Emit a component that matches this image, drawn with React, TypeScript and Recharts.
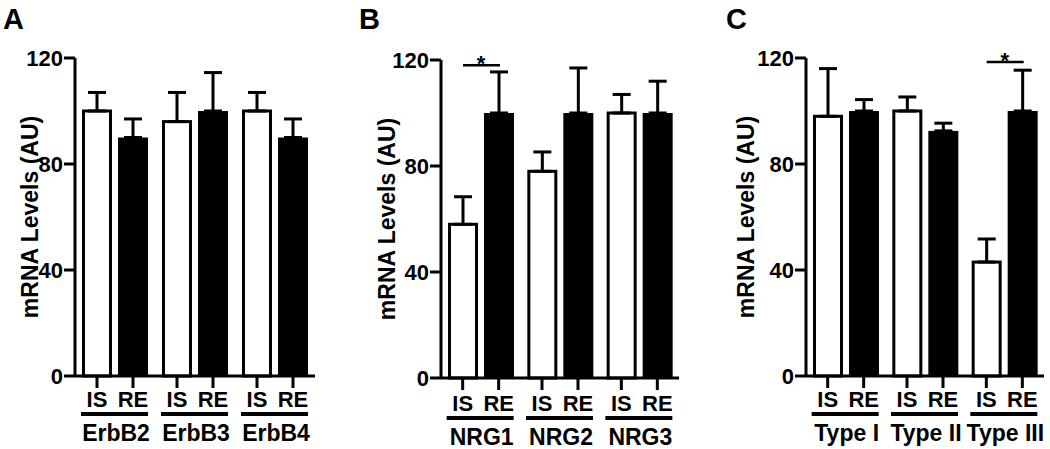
import React from "react";
import { BarChart, Bar, XAxis, YAxis, ErrorBar, Label } from "recharts";

const FONT = "'Liberation Sans', Arial, Helvetica, sans-serif";

// panel A - receptors
const erbGroups = ["ErbB2", "ErbB3", "ErbB4"];
const erbIS = [100, 96, 100];
const erbISErr = [7, 11, 7];
const erbRE = [90, 100, 90];
const erbREErr = [7, 14.5, 7];
const erbSig = [null, null, null];

// panel B - ligands
const nrgGroups = ["NRG1", "NRG2", "NRG3"];
const nrgIS = [58, 78, 100];
const nrgISErr = [10.4, 7.3, 7];
const nrgRE = [100, 100, 100];
const nrgREErr = [15.5, 17, 12];
const nrgSig = [118, null, null];

// panel C - NRG1 types
const typeGroups = ["Type I", "Type II", "Type III"];
const typeIS = [98, 100, 43];
const typeISErr = [18, 5.3, 8.7];
const typeRE = [100, 92.5, 100];
const typeREErr = [4.3, 2.9, 15.4];
const typeSig = [null, null, 118.5];

const yTicks = [0, 40, 80, 120];
const subLabels = ["IS", "RE"];

const BAR = 30;
const GAP = 6;

const IsBar = (props: any) => {
  const { x, y, width, height } = props;
  if (!height || height <= 0) return null;
  return (
    <rect
      x={x + 1.5}
      y={y}
      width={width - 3}
      height={height}
      fill="#fff"
      stroke="#000"
      strokeWidth={3}
    />
  );
};

const ReBar = (props: any) => {
  const { x, y, width, height, payload } = props;
  if (!height || height <= 0) return null;
  let bracket = null;
  if (payload && payload.sig != null) {
    const unit = height / payload.re;
    const ly = y + height - payload.sig * unit;
    const x2 = x + width / 2;
    const x1 = x2 - width - GAP;
    bracket = (
      <g>
        <line x1={x1} y1={ly} x2={x2 + 1} y2={ly} stroke="#000" strokeWidth={2.5} />
        <text
          x={(x1 + x2) / 2}
          y={ly + 6}
          textAnchor="middle"
          fontSize={22}
          fontWeight="bold"
          fontFamily={FONT}
          fill="#000"
        >
          *
        </text>
      </g>
    );
  }
  return (
    <g>
      <rect x={x} y={y} width={width} height={height} fill="#000" />
      {bracket}
    </g>
  );
};

function makeTick(shift: number) {
  return (props: any) => {
    const { x, y, payload } = props;
    const off = (BAR + GAP) / 2;
    return (
      <g>
        {subLabels.map((s, i) => {
          const cx = x + (i === 0 ? -off : off);
          return (
            <g key={s}>
              <line x1={cx} y1={y} x2={cx} y2={y + 12} stroke="#000" strokeWidth={3} />
              <text
                x={cx}
                y={y + 31 + shift}
                textAnchor="middle"
                fontSize={22}
                fontWeight="bold"
                fontFamily={FONT}
                fill="#000"
              >
                {s}
              </text>
            </g>
          );
        })}
        <rect x={x - 34} y={y + 36 + shift} width={67} height={4} fill="#000" />
        <text
          x={x + 1}
          y={y + 65 + shift}
          textAnchor="middle"
          fontSize={23}
          fontWeight="bold"
          fontFamily={FONT}
          fill="#000"
        >
          {payload.value}
        </text>
      </g>
    );
  };
}

function Panel(p: any) {
  const data = p.groups.map((g: string, i: number) => ({
    group: g,
    is: p.is[i],
    isErr: [0, p.isErr[i]],
    re: p.re[i],
    reErr: [0, p.reErr[i]],
    sig: p.sig[i],
  }));
  const W = 75 + p.plotW + 8;
  return (
    <div style={{ position: "absolute", left: p.left, top: 0, width: W, height: 449 }}>
      <BarChart
        width={W}
        height={449}
        data={data}
        margin={{ top: p.top, right: 8, bottom: 0, left: 0 }}
        barSize={BAR}
        barGap={GAP}
      >
        <XAxis
          dataKey="group"
          height={449 - p.top - 318}
          interval={0}
          tickSize={0}
          tickMargin={0}
          tickLine={false}
          axisLine={{ stroke: "#000", strokeWidth: 3 }}
          tick={makeTick(p.labelShift)}
        />
        <YAxis
          domain={[0, 120]}
          ticks={yTicks}
          width={75}
          tickSize={11}
          tickMargin={1}
          axisLine={{ stroke: "#000", strokeWidth: 3 }}
          tickLine={{ stroke: "#000", strokeWidth: 3 }}
          tick={{ fill: "#000", fontSize: 22, fontWeight: "bold", fontFamily: FONT }}
        >
          <Label
            content={(lp: any) => {
              const vb = lp.viewBox || { x: 0, y: p.top, width: 75, height: 318 };
              const cx = vb.x + vb.width - p.titleOffset;
              const cy = vb.y + vb.height / 2;
              return (
                <text
                  x={cx}
                  y={cy}
                  transform={`rotate(-90, ${cx}, ${cy})`}
                  textAnchor="middle"
                  dominantBaseline="central"
                  fontSize={23}
                  fontWeight="bold"
                  fontFamily={FONT}
                  fill="#000"
                >
                  mRNA Levels (AU)
                </text>
              );
            }}
          />
        </YAxis>
        <Bar dataKey="is" shape={IsBar} isAnimationActive={false}>
          <ErrorBar dataKey="isErr" direction="y" width={9} strokeWidth={3} stroke="#000" />
        </Bar>
        <Bar dataKey="re" shape={ReBar} isAnimationActive={false}>
          <ErrorBar dataKey="reErr" direction="y" width={9} strokeWidth={3} stroke="#000" />
        </Bar>
      </BarChart>
    </div>
  );
}

const letterStyle: React.CSSProperties = {
  position: "absolute",
  fontFamily: FONT,
  fontWeight: "bold",
  fontSize: 29,
  lineHeight: 1,
  color: "#000",
};

export default function App() {
  return (
    <div
      style={{
        position: "absolute",
        left: 0,
        top: 0,
        width: 1050,
        height: 449,
        background: "#fff",
        overflow: "hidden",
      }}
    >
      <Panel
        groups={erbGroups}
        is={erbIS}
        isErr={erbISErr}
        re={erbRE}
        reErr={erbREErr}
        sig={erbSig}
        left={0}
        top={58}
        plotW={240}
        titleOffset={45}
        labelShift={0}
      />
      <Panel
        groups={nrgGroups}
        is={nrgIS}
        isErr={nrgISErr}
        re={nrgRE}
        reErr={nrgREErr}
        sig={nrgSig}
        left={366}
        top={60}
        plotW={238}
        titleOffset={54}
        labelShift={2}
      />
      <Panel
        groups={typeGroups}
        is={typeIS}
        isErr={typeISErr}
        re={typeRE}
        reErr={typeREErr}
        sig={typeSig}
        left={731}
        top={58}
        plotW={238}
        titleOffset={60}
        labelShift={0}
      />
      <div style={{ ...letterStyle, left: 3, top: 5 }}>A</div>
      <div style={{ ...letterStyle, left: 359, top: 5 }}>B</div>
      <div style={{ ...letterStyle, left: 726, top: 5 }}>C</div>
    </div>
  );
}
